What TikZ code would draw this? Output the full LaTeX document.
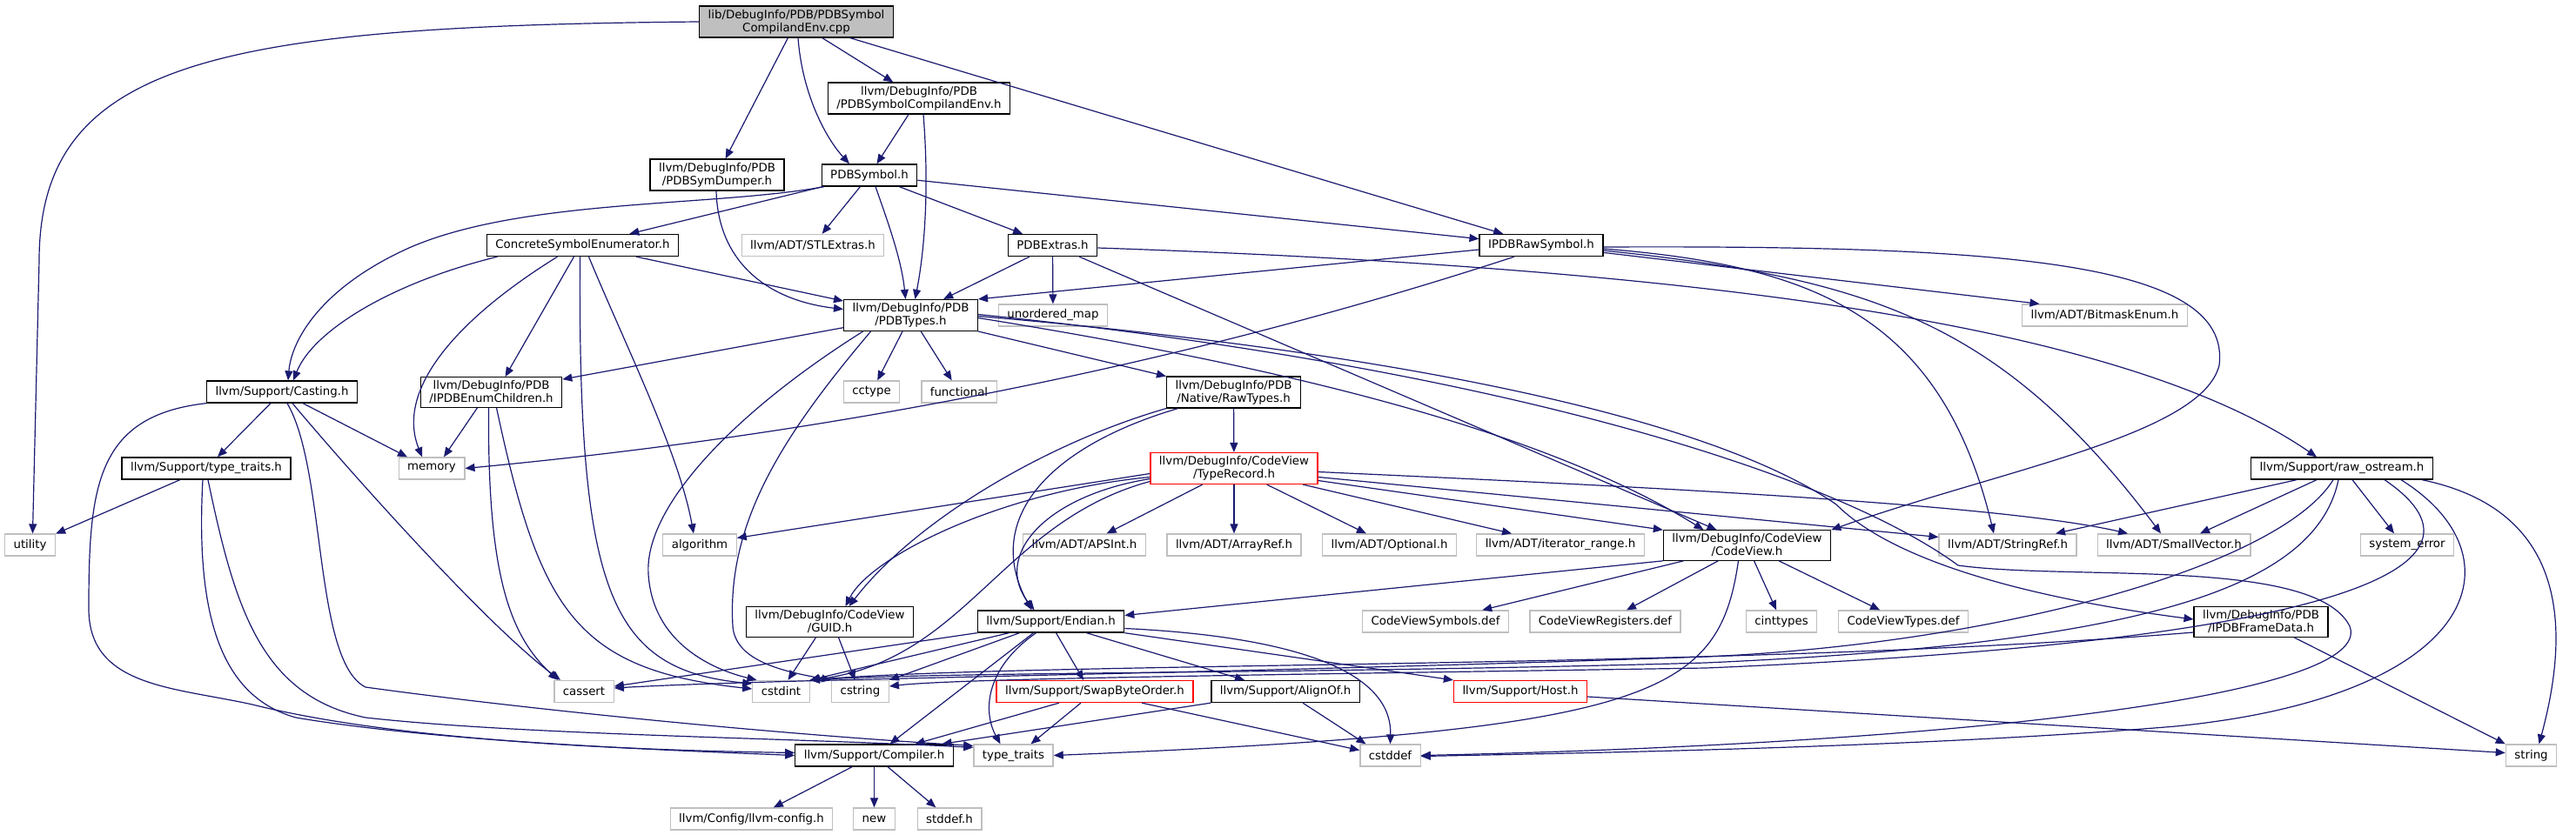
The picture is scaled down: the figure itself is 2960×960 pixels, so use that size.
\documentclass[tikz,border=0pt]{standalone}
\usepackage{fontspec}
\setmainfont{DejaVu Sans}
\usepackage{xcolor}
\usetikzlibrary{arrows.meta}

\definecolor{edgeblue}{HTML}{191970}
\definecolor{boxgray}{HTML}{BFBFBF}

\begin{document}
\begin{tikzpicture}[x=1pt,y=-1pt,>={Triangle[length=11pt,width=9pt]},
    every node/.style={font=\fontsize{13.33}{15}\selectfont, align=center,
      inner xsep=10pt, inner ysep=4pt, minimum height=25pt, line width=1.3pt},
    hdr/.style={draw=black, fill=white},
    sysinc/.style={draw=boxgray, fill=white},
    redhdr/.style={draw=red, fill=white},
    srcfile/.style={draw=black, fill=boxgray},
    dep/.style={->, draw=edgeblue, line width=1.2pt}]
    \fill[white] (0,0) rectangle (2960,960);
    \useasboundingbox (0,0) rectangle (2960,960);

    \node[srcfile] (main) at (915,25) {lib/DebugInfo/PDB/PDBSymbol\\CompilandEnv.cpp};
    \node[hdr] (cenv) at (1056,113) {llvm/DebugInfo/PDB\\/PDBSymbolCompilandEnv.h};
    \node[hdr] (dumper) at (824,201) {llvm/DebugInfo/PDB\\/PDBSymDumper.h};
    \node[hdr] (symbol) at (999,201.5) {PDBSymbol.h};
    \node[hdr] (concrete) at (669.5,282) {ConcreteSymbolEnumerator.h};
    \node[sysinc] (stlextras) at (934,282) {llvm/ADT/STLExtras.h};
    \node[hdr] (extras) at (1209.5,282) {PDBExtras.h};
    \node[hdr] (rawsym) at (1771,282) {IPDBRawSymbol.h};
    \node[hdr] (types) at (1046.5,362.5) {llvm/DebugInfo/PDB\\/PDBTypes.h};
    \node[sysinc] (umap) at (1210,362.5) {unordered\_map};
    \node[sysinc] (bitmask) at (2418.5,362.5) {llvm/ADT/BitmaskEnum.h};
    \node[hdr] (casting) at (324,450.5) {llvm/Support/Casting.h};
    \node[hdr] (enumch) at (564.5,451) {llvm/DebugInfo/PDB\\/IPDBEnumChildren.h};
    \node[sysinc] (cctype) at (1001.5,450.5) {cctype};
    \node[sysinc] (functional) at (1102,450.5) {functional};
    \node[hdr] (rawtypes) at (1417.5,451) {llvm/DebugInfo/PDB\\/Native/RawTypes.h};
    \node[hdr] (typetraitsh) at (237,538.5) {llvm/Support/type\_traits.h};
    \node[sysinc] (memory) at (496,538.5) {memory};
    \node[hdr] (rawostream) at (2691,538.5) {llvm/Support/raw\_ostream.h};
    \node[redhdr] (typerecord) at (1418,538.5) {llvm/DebugInfo/CodeView\\/TypeRecord.h};
    \node[sysinc] (utility) at (34.5,626.5) {utility};
    \node[sysinc] (algorithm) at (804,626.5) {algorithm};
    \node[sysinc] (apsint) at (1246,626.5) {llvm/ADT/APSInt.h};
    \node[sysinc] (arrayref) at (1418,626.5) {llvm/ADT/ArrayRef.h};
    \node[sysinc] (optional) at (1596.5,626.5) {llvm/ADT/Optional.h};
    \node[sysinc] (iterrange) at (1793,626.5) {llvm/ADT/iterator\_range.h};
    \node[hdr] (codeview) at (2007.5,627) {llvm/DebugInfo/CodeView\\/CodeView.h};
    \node[sysinc] (stringref) at (2307,626.5) {llvm/ADT/StringRef.h};
    \node[sysinc] (smallvec) at (2498,626.5) {llvm/ADT/SmallVector.h};
    \node[sysinc] (syserr) at (2766,626.5) {system\_error};
    \node[hdr] (guid) at (953.5,715) {llvm/DebugInfo/CodeView\\/GUID.h};
    \node[hdr] (endian) at (1207.5,714.5) {llvm/Support/Endian.h};
    \node[sysinc] (cvsym) at (1649.5,714.5) {CodeViewSymbols.def};
    \node[sysinc] (cvreg) at (1844.5,714.5) {CodeViewRegisters.def};
    \node[sysinc] (cinttypes) at (2047,714.5) {cinttypes};
    \node[sysinc] (cvtypes) at (2187,714.5) {CodeViewTypes.def};
    \node[hdr] (framedata) at (2598,715) {llvm/DebugInfo/PDB\\/IPDBFrameData.h};
    \node[sysinc] (cassert) at (671,795) {cassert};
    \node[sysinc] (cstdint) at (897.5,795) {cstdint};
    \node[sysinc] (cstring) at (988.5,795) {cstring};
    \node[redhdr] (swapbyte) at (1258,795) {llvm/Support/SwapByteOrder.h};
    \node[hdr] (alignof) at (1477,795) {llvm/Support/AlignOf.h};
    \node[redhdr] (host) at (1747,795) {llvm/Support/Host.h};
    \node[hdr] (compiler) at (1004.5,868.5) {llvm/Support/Compiler.h};
    \node[sysinc] (typetraits) at (1164.5,868.5) {type\_traits};
    \node[sysinc] (cstddef) at (1597.5,868.5) {cstddef};
    \node[sysinc] (string) at (2908.5,868.5) {string};
    \node[sysinc] (llvmconfig) at (863.5,941.5) {llvm/Config/llvm-config.h};
    \node[sysinc] (new) at (1004.5,941.5) {new};
    \node[sysinc] (stddef) at (1091,941.5) {stddef.h};

    % source file
    \draw[dep] (main.west) .. controls (250,30) and (45,70) .. (45,300) -- ([xshift=3pt]utility.north);
    \draw[dep] (main) -- (dumper);
    \draw[dep] ([xshift=2pt]main.south) .. controls (922,110) and (950,160) .. ([xshift=-23pt]symbol.north);
    \draw[dep] (main) -- (cenv);
    \draw[dep] (main) -- (rawsym);
    \draw[dep] (cenv) -- (symbol);
    \draw[dep] ([xshift=5pt]cenv.south) .. controls (1068,220) and (1062,290) .. ([xshift=5pt]types.north);
    \draw[dep] ([xshift=-1pt]dumper.south) .. controls (825,300) and (880,345) .. ([yshift=7pt]types.west);

    % PDBSymbol.h
    \draw[dep] ([xshift=-52pt]symbol.south) .. controls (820,238) and (600,228) .. (470,285) .. controls (370,330) and (335,390) .. ([xshift=7pt]casting.north);
    \draw[dep] (symbol) -- (concrete);
    \draw[dep] (symbol) -- (stlextras);
    \draw[dep] ([xshift=7pt]symbol.south) .. controls (1022,260) and (1036,300) .. ([xshift=-6pt]types.north);
    \draw[dep] (symbol) -- (extras);
    \draw[dep] (symbol) -- (rawsym);

    \draw[dep] ([xshift=-98pt]concrete.south) .. controls (450,325) and (360,380) .. ([xshift=13pt]casting.north);
    \draw[dep] ([xshift=-29pt]concrete.south) .. controls (520,370) and (455,450) .. ([xshift=-11pt]memory.north);
    \draw[dep] ([xshift=-10pt]concrete.south) -- ([xshift=16pt]enumch.north);
    \draw[dep] ([xshift=-3pt]concrete.south) .. controls (664,680) and (700,770) .. ([yshift=9pt]cstdint.west);
    \draw[dep] ([xshift=7pt]concrete.south) .. controls (720,400) and (780,520) .. ([xshift=-7pt]algorithm.north);
    \draw[dep] (concrete) -- (types);

    % PDBTypes.h
    \draw[dep] (types) -- (enumch);
    \draw[dep] (types) -- (cctype);
    \draw[dep] (types) -- (functional);
    \draw[dep] (types) -- (rawtypes);
    \draw[dep] ([yshift=-3pt]types.east) .. controls (1400,410) and (1750,480) .. ([xshift=-50pt]codeview.north);
    \draw[dep] ([yshift=-1pt]types.east) .. controls (1550,400) and (1950,470) .. (2110,580) .. controls (2180,650) and (2350,690) .. ([yshift=3pt]framedata.west);
    \draw[dep] ([yshift=1pt]types.east) .. controls (1700,420) and (2100,540) .. (2250,650) .. controls (2380,668) and (2660,640) .. (2700,720) .. controls (2730,800) and (2250,855) .. (cstddef.east);
    \draw[dep] ([xshift=-55pt]types.south) .. controls (850,470) and (740,580) .. (745,660) .. controls (750,740) and (820,770) .. ([xshift=-28pt]cstdint.north);
    \draw[dep] ([xshift=-46pt]types.south) .. controls (900,500) and (835,600) .. (842,720) .. controls (845,760) and (900,772) .. (cstring.north west);

    \draw[dep] (extras) -- (types);
    \draw[dep] (extras) -- (umap);
    \draw[dep] (extras) -- ([xshift=-35pt]codeview.north);
    \draw[dep] ([yshift=-3pt]extras.east) .. controls (2000,310) and (2450,380) .. ([xshift=-29pt]rawostream.north);

    % IPDBRawSymbol.h
    \draw[dep] ([yshift=-5pt]rawsym.west) -- (types.north east);
    \draw[dep] ([xshift=-31pt]rawsym.south) .. controls (1450,390) and (1050,490) .. (memory.east);
    \draw[dep] (rawsym) -- ([xshift=-75pt]bitmask.north);
    \draw[dep] ([yshift=-2pt]rawsym.east) .. controls (2300,282) and (2565,300) .. (2550,420) .. controls (2530,500) and (2300,540) .. (codeview.north east);
    \draw[dep] ([yshift=-4pt]rawsym.east) .. controls (2080,305) and (2230,360) .. ([xshift=-16pt]stringref.north);
    \draw[dep] ([yshift=-6pt]rawsym.east) .. controls (2150,320) and (2300,370) .. ([xshift=-15pt]smallvec.north);

    \draw[dep] (casting) -- (typetraitsh);
    \draw[dep] ([xshift=24pt]casting.south) -- ([xshift=-28pt]memory.north);
    \draw[dep] ([xshift=12pt]casting.south) .. controls (400,540) and (560,720) .. ([xshift=-27pt]cassert.north);
    \draw[dep] (casting.south west) .. controls (110,478) and (102,560) .. (102,700) .. controls (102,790) and (200,790) .. (290,810) .. controls (450,850) and (700,862) .. ([yshift=3pt]compiler.west);
    \draw[dep] ([xshift=6pt]casting.south) .. controls (375,540) and (360,760) .. (420,790) .. controls (600,815) and (900,845) .. ([yshift=-2pt]typetraits.north west);

    \draw[dep] ([xshift=-16pt]enumch.south) -- ([xshift=14pt]memory.north);
    \draw[dep] ([xshift=-3pt]enumch.south) .. controls (560,660) and (585,730) .. ([xshift=-30pt]cassert.north);
    \draw[dep] ([xshift=6pt]enumch.south) .. controls (620,700) and (660,770) .. ([yshift=3pt]cstdint.west);

    \draw[dep] (typetraitsh) -- (utility);
    \draw[dep] ([xshift=-4pt]typetraitsh.south) .. controls (225,700) and (250,800) .. (340,825) .. controls (500,852) and (750,862) .. (compiler.west);
    \draw[dep] ([xshift=2pt]typetraitsh.south) .. controls (270,700) and (300,800) .. (420,825) .. controls (600,845) and (900,848) .. ([yshift=-4pt]typetraits.north west);

    % RawTypes.h and TypeRecord.h
    \draw[dep] (rawtypes) -- (typerecord);
    \draw[dep] (rawtypes.south west) .. controls (1200,510) and (1050,600) .. ([xshift=22pt]guid.north);
    \draw[dep] ([xshift=-64pt]rawtypes.south) .. controls (1200,515) and (1130,600) .. ([xshift=-22pt]endian.north);
    \draw[dep] ([yshift=-6pt]typerecord.west) -- ([yshift=8pt]algorithm.east);
    \draw[dep] ([yshift=-10pt]typerecord.west) .. controls (1150,565) and (1000,640) .. ([xshift=18pt]guid.north);
    \draw[dep] ([yshift=-12pt]typerecord.west) .. controls (1200,570) and (1140,640) .. ([xshift=-19pt]endian.north);
    \draw[dep] ([yshift=-15pt]typerecord.west) .. controls (1150,600) and (1110,760) .. (cstdint.north east);
    \draw[dep] (typerecord) -- (apsint);
    \draw[dep] (typerecord) -- (arrayref);
    \draw[dep] (typerecord) -- (optional);
    \draw[dep] (typerecord) -- (iterrange);
    \draw[dep] ([yshift=-14pt]typerecord.east) -- (codeview.north west);
    \draw[dep] ([yshift=-10pt]typerecord.east) -- ([yshift=9pt]stringref.west);
    \draw[dep] ([yshift=-4pt]typerecord.east) .. controls (1900,560) and (2300,580) .. ([xshift=-53pt]smallvec.north);

    % CodeView.h
    \draw[dep] (codeview.south west) -- ([yshift=7pt]endian.east);
    \draw[dep] (codeview) -- (cvsym);
    \draw[dep] (codeview) -- (cvreg);
    \draw[dep] (codeview) -- (cinttypes);
    \draw[dep] (codeview) -- (cvtypes);
    \draw[dep] ([xshift=-10pt]codeview.south) .. controls (1975,800) and (1900,840) .. (typetraits.east);

    % Endian.h
    \draw[dep] (endian.south west) -- ([yshift=6pt]cassert.east);
    \draw[dep] ([xshift=-48pt]endian.south) -- (cstdint.north east);
    \draw[dep] ([xshift=-36pt]endian.south) -- (cstring.north east);
    \draw[dep] ([xshift=-20pt]endian.south) -- ([xshift=18pt]compiler.north);
    \draw[dep] ([xshift=-17pt]endian.south) .. controls (1130,770) and (1130,820) .. ([xshift=-15pt]typetraits.north);
    \draw[dep] ([xshift=6pt]endian.south) -- ([xshift=-13pt]swapbyte.north);
    \draw[dep] ([xshift=41pt]endian.south) -- ([xshift=-47pt]alignof.north);
    \draw[dep] (endian.south east) -- (host.north west);
    \draw[dep] ([yshift=-8pt]endian.east) .. controls (1450,730) and (1600,760) .. (cstddef.north);

    \draw[dep] ([xshift=-41pt]swapbyte.south) -- ([xshift=47pt]compiler.north);
    \draw[dep] ([xshift=-16pt]swapbyte.south) -- ([xshift=20pt]typetraits.north);
    \draw[dep] ([xshift=54pt]swapbyte.south) -- ([yshift=6pt]cstddef.west);
    \draw[dep] (alignof.south west) -- ([xshift=78pt]compiler.north);
    \draw[dep] ([xshift=20pt]alignof.south) -- ([xshift=-28pt]cstddef.north);
    \draw[dep] ([yshift=-6pt]host.east) -- ([yshift=3pt]string.west);
    \draw[dep] (compiler) -- (llvmconfig);
    \draw[dep] (compiler) -- (new);
    \draw[dep] (compiler) -- (stddef);
    \draw[dep] ([xshift=-16pt]guid.south) -- ([xshift=8pt]cstdint.north);
    \draw[dep] ([xshift=10pt]guid.south) -- ([xshift=-6pt]cstring.north);

    % raw_ostream.h
    \draw[dep] ([xshift=-52pt]rawostream.south) -- ([xshift=55pt]stringref.north);
    \draw[dep] ([xshift=-29pt]rawostream.south) -- ([xshift=30pt]smallvec.north);
    \draw[dep] ([xshift=12pt]rawostream.south) -- ([xshift=-15pt]syserr.north);
    \draw[dep] ([xshift=92pt]rawostream.south) .. controls (2920,580) and (2965,680) .. ([xshift=9pt]string.north);
    \draw[dep] ([xshift=-10pt]rawostream.south) .. controls (2620,650) and (2300,740) .. (1960,755) .. controls (1400,775) and (900,780) .. ([yshift=4pt]cassert.east);
    \draw[dep] ([xshift=-4pt]rawostream.south) .. controls (2660,680) and (2450,740) .. (1960,762) .. controls (1500,775) and (1100,772) .. (cstdint.north east);
    \draw[dep] ([xshift=49pt]rawostream.south) .. controls (2870,640) and (2750,735) .. (1960,768) .. controls (1450,776) and (1100,780) .. ([yshift=6pt]cstring.east);
    \draw[dep] ([xshift=68pt]rawostream.south) .. controls (2900,640) and (2850,800) .. (2500,835) .. controls (2200,860) and (1800,866) .. ([yshift=-1pt]cstddef.east);

    \draw[dep] ([yshift=-12pt]framedata.west) .. controls (2000,770) and (1200,760) .. (cstdint.north east);
    \draw[dep] ([xshift=38pt]framedata.south) -- (string.north west);
\end{tikzpicture}
\end{document}
